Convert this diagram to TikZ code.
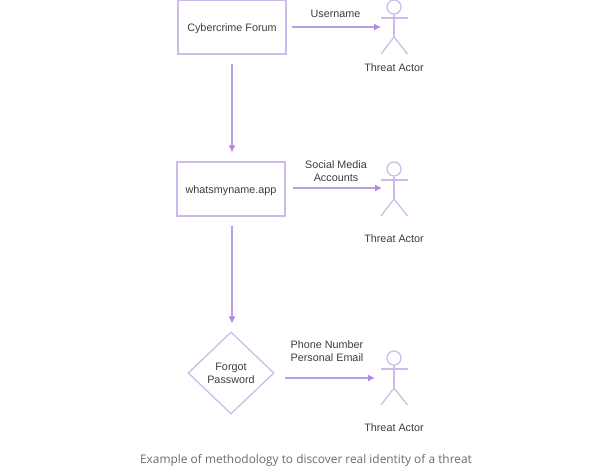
\documentclass[tikz,border=0pt]{standalone}
\usepackage{fontspec}
\setmainfont{Liberation Sans}
\newfontfamily\captionfont{Open Sans}
\usetikzlibrary{arrows.meta,shapes.geometric}
\definecolor{edgeline}{HTML}{CDB9EA}
\definecolor{arrowline}{HTML}{BA9EEC}
\definecolor{labeltext}{HTML}{3C3C3C}
\definecolor{captiontext}{HTML}{6B6B6B}
\tikzset{
  box/.style={draw=edgeline,line width=1.25pt,minimum width=108pt,minimum height=54pt,inner sep=0pt,text=labeltext,text height=10.5pt},
  decision/.style={draw=edgeline,line width=1.25pt,diamond,minimum width=86pt,minimum height=82pt,inner sep=0pt,align=center,text=labeltext},
  flow/.style={draw=arrowline,line width=1.25pt,-{Latex[length=7pt,width=7pt,color=arrowline!85!violet]}},
  actorline/.style={draw=edgeline,line width=1.25pt},
  head/.style={circle,draw=edgeline,line width=1.25pt,minimum size=14pt,inner sep=0pt},
  label/.style={text=labeltext,align=center,inner sep=0pt}
}
\begin{document}
\begin{tikzpicture}[x=1pt,y=-1pt,font=\fontsize{10.8}{13}\selectfont]
  \useasboundingbox (0,0) rectangle (612,469);
  % the three steps
  \node[box] (forum) at (232,27) {Cybercrime Forum};
  \node[box] (app) at (231,189) {whatsmyname.app};
  \node[decision] (forgot) at (231,373) {Forgot\\Password};
  \draw[flow,shorten <=9pt,shorten >=9pt] (forum.south -| 232,0) -- (app.north -| 232,0);
  \draw[flow,shorten <=9pt,shorten >=8pt] (app.south -| 232,0) -- (forgot.north -| 232,0);
  % the actors
  \foreach \name/\y in {one/0,two/162,three/351} {
    \node[head] (head\name) at (394,\y+7) {};
    \coordinate (hip\name) at (394,\y+37);
    \coordinate (armleft\name) at (381,\y+18);
    \coordinate (armright\name) at (407.5,\y+18);
    \coordinate (footleft\name) at (381,\y+54);
    \coordinate (footright\name) at (407.5,\y+54);
    \draw[actorline] (head\name.south) -- (hip\name);
    \draw[actorline] (armleft\name) -- (armright\name);
    \draw[actorline] (footleft\name) -- (hip\name) -- (footright\name);
  }
  \node[label] (actorone) at (394,67.5) {Threat Actor};
  \node[label] (actortwo) at (394,238.5) {Threat Actor};
  \node[label] (actorthree) at (394,427.5) {Threat Actor};
  % the findings
  \coordinate (targetone) at (381,27);
  \coordinate (targettwo) at (382,188);
  \coordinate (startthree) at (285,378);
  \coordinate (targetthree) at (375,378);
  \draw[flow,shorten <=5pt] (forum.east) -- (targetone);
  \draw[flow,shorten <=7pt] (app.east |- targettwo) -- (targettwo);
  \draw[flow] (startthree) -- (targetthree);
  \node[label] (found) at (335.5,13.5) {Username};
  \node[label] (accounts) at (336,171) {Social Media\\Accounts};
  \node[label] (contact) at (327,351) {Phone Number\\Personal Email};
  \node[text=captiontext,inner sep=0pt,font=\captionfont\fontsize{11.9}{14}\selectfont] (caption) at (306,460) {Example of methodology to discover real identity of a threat};
\end{tikzpicture}
\end{document}
